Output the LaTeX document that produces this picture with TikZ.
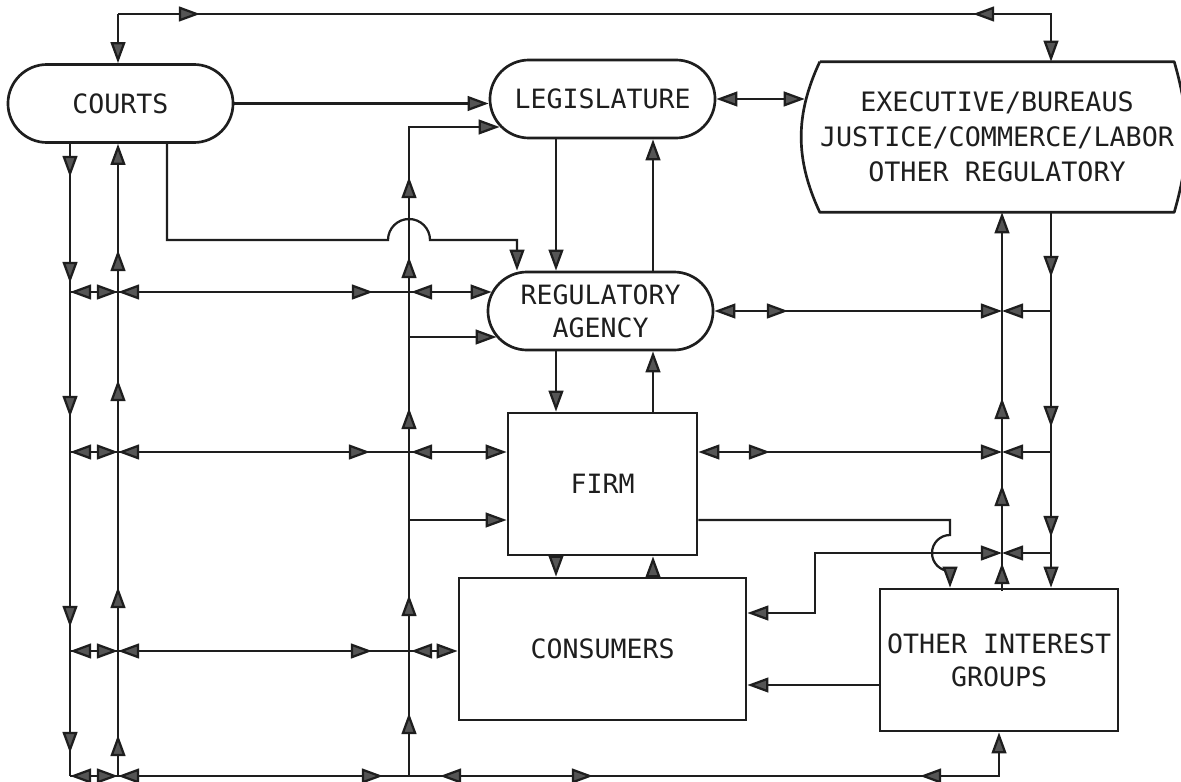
\documentclass[tikz,border=0pt]{standalone}
\usepackage{fontspec}
\newfontfamily\boxfont{DejaVu Sans Mono}
\usetikzlibrary{arrows.meta}
\usetikzlibrary{calc}
\usetikzlibrary{shapes.misc}
\definecolor{rgink}{HTML}{1E1E1E}
\definecolor{rghead}{HTML}{555555}
\newcommand{\rglabel}{\boxfont\fontsize{18.9pt}{23.5pt}\selectfont}
\tikzset{
  rgstadium/.style={
    draw=rgink, rounded rectangle, minimum width=5.625cm,
    minimum height=1.95cm, inner sep=0pt, line width=1.9pt,
    font=\rglabel, text=rgink, align=center},
  rgblock/.style={
    draw=rgink, rectangle, minimum height=3.55cm, inner sep=0pt,
    line width=1.9pt, font=\rglabel, text=rgink, align=center},
  rgline/.style={draw=rgink, line width=1.6pt},
  rgedge/.style={draw=rgink, line width=1.9pt, line join=round},
}
% an arrow head on a bus line: tip point, direction
\newcommand{\headat}[2]{\draw[rgline,->] ($(#1)+(#2:-0.7cm)$) -- (#1);}

\begin{document}
\begin{tikzpicture}[x=0.025cm, y=-0.025cm,
  >={Triangle[length=15pt, width=10.5pt, fill=rghead]}]

\fill[white] (0,0) rectangle (1181,781);
\useasboundingbox (0,0) rectangle (1181,781);

% Institutions.
\node[rgstadium] (courts) at (120.5,103.5) {COURTS};
\node[rgstadium] (legis) at (602.5,99) {LEGISLATURE};
\node[rgstadium] (agency) at (600.5,311) {REGULATORY\\AGENCY};
\node[font=\boxfont\fontsize{19pt}{25pt}\selectfont, text=rgink,
      align=center, inner sep=0pt,
      minimum width=8.45cm, minimum height=3.75cm] (exec) at (997,137)
  {EXECUTIVE/BUREAUS\\JUSTICE/COMMERCE/LABOR\\OTHER REGULATORY};
\draw[rgedge] (exec.north west) -- (exec.north east)
  to[bend left=16] (exec.south east) -- (exec.south west)
  to[bend left=25] (exec.north west);

% Market participants.
\node[rgblock, minimum width=4.725cm] (firm) at (602.5,484) {FIRM};
\node[rgblock, minimum width=7.175cm] (cons) at (602.5,649) {CONSUMERS};
\node[rgblock, minimum width=5.95cm] (groups) at (999,660)
  {OTHER INTEREST\\GROUPS};

% Bus columns and rows.
\coordinate (v1) at (70,0);
\coordinate (v2) at (118,0);
\coordinate (v3) at (409,0);
\coordinate (v4) at (1002,0);
\coordinate (v5) at (1051,0);
\coordinate (dn) at (556,0);
\coordinate (up) at (653,0);
\coordinate (tap) at (167,0);
\coordinate (drop) at (517,0);
\coordinate (jog) at (815,0);
\coordinate (hop) at (950,0);
\coordinate (rT) at (0,14);
\coordinate (rL) at (0,127);
\coordinate (rH) at (0,240);
\coordinate (rA) at (0,292);
\coordinate (rA2) at (0,337);
\coordinate (rB) at (0,452);
\coordinate (rB2) at (0,520);
\coordinate (rE) at (0,553);
\coordinate (rF) at (0,613);
\coordinate (rC) at (0,651);
\coordinate (rG) at (0,685);
\coordinate (rD) at (0,776);

% Top bus between courts and executive.
\draw[rgline,->] (v2 |- rT) -- (v2 |- courts.north);
\draw[rgline,->] (v2 |- rT) -- (v5 |- rT) -- (v5 |- exec.north);
\headat{200,14}{0}
\headat{973,14}{180}

% Courts, legislature, executive.
\draw[rgline,->] (courts.east) -- (courts.east -| legis.west);
\draw[rgline,<->] (legis.east) -- ($(legis.east -| exec.west)+(-15,0)$);

% The central column.
\draw[rgline,->] (dn |- legis.south) -- (dn |- agency.north);
\draw[rgline,->] (up |- agency.north) -- (up |- legis.south);
\draw[rgline,->] (dn |- agency.south) -- (dn |- firm.north);
\draw[rgline,->] (up |- firm.north) -- (up |- agency.south);
\draw[rgline,->] (dn |- firm.south) -- (dn |- cons.north);
\draw[rgline,->] (up |- cons.north) -- (up |- firm.south);

% Courts to agency, hopping over v3.
\draw[rgline,->] (tap |- courts.south) -- (tap |- rH)
  -- ($(v3 |- rH)+(-21,0)$) arc[start angle=180, end angle=0, radius=0.525cm]
  -- (drop |- rH) -- (drop |- agency.north);

% Left buses.
\draw[rgline] (v1 |- courts.south) -- (v1 |- rD);
\draw[rgline,->] (v2 |- rD) -- (v2 |- courts.south);
\draw[rgline,->] (v3 |- rD) -- (v3 |- rL) -- ($(legis.west)+(11,28)$);
\foreach \y in {177,283,417,627,753} { \headat{70,\y}{-90} }
\foreach \y in {250,380,587,735} { \headat{118,\y}{90} }
\foreach \y in {177,257,408,595,713} { \headat{409,\y}{90} }

% Rows off the left buses.
\draw[rgline,->] (v1 |- rA) -- ($(agency.west |- rA)+(5,0)$);
\draw[rgline,->] (v3 |- rA2) -- ($(agency.west |- rA2)+(10,0)$);
\draw[rgline,->] (v1 |- rB) -- (firm.west |- rB);
\draw[rgline,->] (v3 |- rB2) -- (firm.west |- rB2);
\draw[rgline,->] (v1 |- rC) -- (cons.west |- rC);
\draw[rgline,->] (v1 |- rD) -| (groups.south);
\foreach \y in {292,452,651,776} {
  \headat{70,\y}{180}
  \headat{118,\y}{0}
  \headat{118,\y}{180}
}
\headat{373,292}{0}
\headat{411,292}{180}
\headat{370,452}{0}
\headat{411,452}{180}
\headat{372,651}{0}
\headat{411,651}{180}
\headat{383,776}{0}
\headat{440,776}{180}
\headat{593,776}{0}
\headat{920,776}{180}

% Right buses.
\draw[rgline,->] (v4 |- groups.north) -- (v4 |- exec.south);
\draw[rgline,->] (v5 |- exec.south) -- (v5 |- groups.north);
\foreach \y in {398,485,563} { \headat{1002,\y}{90} }
\foreach \y in {277,427,537} { \headat{1051,\y}{-90} }

% Rows off the right buses.
\draw[rgline,<->] (agency.east) -- (v4 |- agency.east);
\draw[rgline,->] (v5 |- agency.east) -- (v4 |- agency.east);
\headat{788,311}{0}
\draw[rgline,<->] (firm.east |- rB) -- (v4 |- rB);
\draw[rgline,->] (v5 |- rB) -- (v4 |- rB);
\headat{770,452}{0}
\draw[rgline,<->] (cons.east |- rF) -| (jog |- rE) -- (v4 |- rE);
\draw[rgline,->] (v5 |- rE) -- (v4 |- rE);

% Firm to interest groups, hopping over the lower row.
\draw[rgline,->] (firm.east |- rB2) -| ($(hop |- rE)+(0,-18)$)
  arc[start angle=90, end angle=270, radius=0.45cm]
  -- (hop |- groups.north);
\draw[rgline,->] (groups.west |- rG) -- (cons.east |- rG);

\end{tikzpicture}
\end{document}
